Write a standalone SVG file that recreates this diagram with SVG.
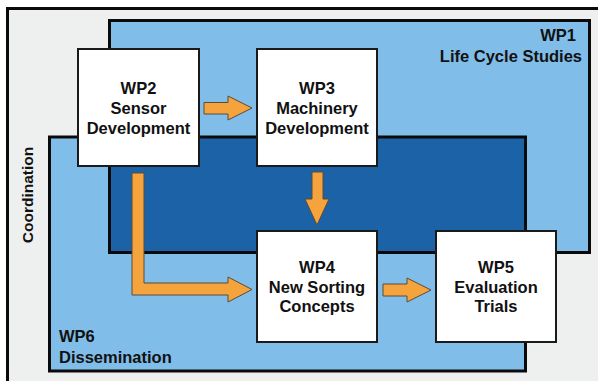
<svg xmlns="http://www.w3.org/2000/svg" width="598" height="381" viewBox="0 0 598 381">
<style>
.t{font-family:"Liberation Sans",Arial,sans-serif;font-weight:bold;font-size:16.5px;fill:#111}
.c{text-anchor:middle}
.box{fill:#ffffff;stroke:#1a1a1a;stroke-width:2}
.wp{stroke:#0a0a0a;stroke-width:3;fill:none}
.arr{fill:#f5a33c;stroke:#5a4a3a;stroke-width:1}
</style>
<rect x="0" y="0" width="598" height="381" fill="#ffffff"/>
<rect id="frame" x="7.5" y="8.5" width="600" height="380" fill="#eef0ef" stroke="#0a0a0a" stroke-width="3"/>
<text class="t" transform="translate(33,195) rotate(-90)" text-anchor="middle" style="font-size:15.5px">Coordination</text>
<g id="wp1-wp6">
<rect x="109.5" y="20.5" width="480" height="232" fill="#80bde8"/>
<rect x="49.5" y="137" width="476" height="234" fill="#80bde8"/>
<rect x="109.5" y="137" width="416" height="115.5" fill="#1b62a7"/>
<rect class="wp" x="109.5" y="20.5" width="480" height="232"/>
<rect class="wp" x="49.5" y="137" width="476" height="234"/>
</g>
<g id="wp1">
<text class="t" x="576" y="41" text-anchor="end">WP1</text>
<text class="t" x="582" y="61.5" text-anchor="end">Life Cycle Studies</text>
</g>
<g id="wp6">
<text class="t" x="59" y="342">WP6</text>
<text class="t" x="59" y="362.5">Dissemination</text>
</g>
<g id="connectors">
<polygon class="arr" points="204,102.5 228,102.5 228,96 252,108 228,120 228,114 204,114"/>
<polygon class="arr" points="312,172 323,172 323,199 329,199 317,225 305,199 312,199"/>
<polygon class="arr" points="132,173 144,173 144,283 228,283 228,277 252,289.5 228,302 228,295 132,295"/>
<polygon class="arr" points="383,284 407,284 407,278 431,290 407,302 407,296 383,296"/>
</g>
<g id="wp2">
<rect class="box" x="78" y="49" width="121" height="117"/>
<text class="t c" x="138.5" y="94">WP2</text>
<text class="t c" x="138.5" y="114">Sensor</text>
<text class="t c" x="138.5" y="133.5">Development</text>
</g>
<g id="wp3">
<rect class="box" x="257" y="49" width="120" height="117"/>
<text class="t c" x="317" y="94">WP3</text>
<text class="t c" x="317" y="114">Machinery</text>
<text class="t c" x="317" y="133.5">Development</text>
</g>
<g id="wp4">
<rect class="box" x="257" y="231" width="120" height="111"/>
<text class="t c" x="317" y="272.5">WP4</text>
<text class="t c" x="317" y="292.5">New Sorting</text>
<text class="t c" x="317" y="312">Concepts</text>
</g>
<g id="wp5">
<rect class="box" x="436" y="231" width="120" height="111"/>
<text class="t c" x="496" y="272.5">WP5</text>
<text class="t c" x="496" y="292.5">Evaluation</text>
<text class="t c" x="496" y="312">Trials</text>
</g>
</svg>
